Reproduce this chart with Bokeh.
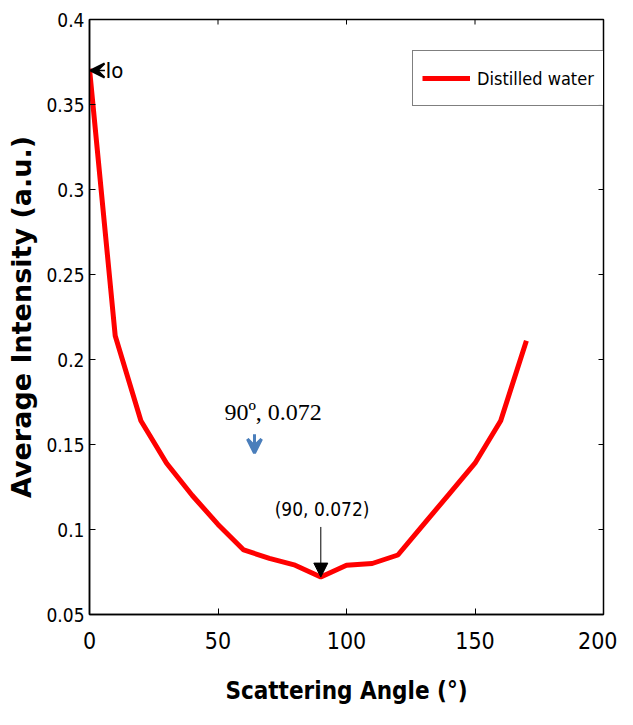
import math
from bokeh.plotting import figure
from bokeh.models import Range1d, Arrow, VeeHead, NormalHead, Label, Legend, LegendItem, FixedTicker
from bokeh.embed import file_html
from bokeh.resources import INLINE

angles = [0, 10, 20, 30, 40, 50, 60, 70, 80, 90, 100, 110, 120, 130, 140, 150, 160, 170]
intensity = [0.371, 0.214, 0.164, 0.139, 0.120, 0.103, 0.088, 0.083, 0.079, 0.072,
             0.079, 0.080, 0.085, 0.103, 0.121, 0.139, 0.164, 0.211]
x_ticks = [0, 50, 100, 150, 200]
y_ticks = [0.05, 0.1, 0.15, 0.2, 0.25, 0.3, 0.35, 0.4]
y_tick_labels = ["0.05", "0.1", "0.15", "0.2", "0.25", "0.3", "0.35", "0.4"]
series_name = "Distilled water"

NARROW = "DejaVu Sans Condensed"
X_MIN, X_MAX, Y_MIN, Y_MAX = 0, 200, 0.05, 0.4

p = figure(width=617, height=709, output_backend="svg", toolbar_location=None,
           x_range=Range1d(X_MIN, X_MAX), y_range=Range1d(Y_MIN, Y_MAX),
           min_border_left=89, min_border_right=14, min_border_top=19, min_border_bottom=95)
p.grid.visible = False
p.outline_line_color = "black"
p.outline_line_width = 1.5

p.xaxis.ticker = FixedTicker(ticks=x_ticks)
p.yaxis.ticker = FixedTicker(ticks=y_ticks)
p.yaxis.major_label_overrides = dict(zip(y_ticks, y_tick_labels))
for ax in (p.xaxis[0], p.yaxis[0]):
    ax.major_tick_in = 6
    ax.major_tick_out = 0
    ax.minor_tick_in = 0
    ax.minor_tick_out = 0
    ax.axis_line_width = 1.5
    ax.major_label_text_font = NARROW
    ax.major_label_text_color = "black"
    ax.axis_label_text_font_style = "bold"
    ax.axis_label_text_color = "black"

p.xaxis.major_label_text_font_size = "23px"
p.yaxis.major_label_text_font_size = "19px"

p.xaxis.axis_label = "Scattering Angle (\u00b0)"
p.xaxis.axis_label_text_font = NARROW
p.xaxis.axis_label_text_font_size = "24px"
p.xaxis.major_label_standoff = 17
p.xaxis.axis_label_standoff = 25

p.yaxis.axis_label = "Average Intensity (a.u.)"
p.yaxis.axis_label_text_font = "DejaVu Sans"
p.yaxis.axis_label_text_font_size = "27px"
p.yaxis.major_label_standoff = 5
p.yaxis.axis_label_standoff = 6

# mirrored box ticks on top and right (inward, 5px)
p.ray(x=x_ticks, y=[Y_MAX] * len(x_ticks), length=5, length_units="screen",
      angle=-math.pi / 2, line_color="black", line_width=1)
p.ray(x=[X_MAX] * len(y_ticks), y=y_ticks, length=5, length_units="screen",
      angle=math.pi, line_color="black", line_width=1)

r = p.line(angles, intensity, line_color="red", line_width=5)

legend = Legend(items=[LegendItem(label=series_name, renderers=[r])],
                location=(323, 508), label_text_font=NARROW, label_text_font_size="18px",
                label_text_color="black", label_height=36,
                border_line_color="black", border_line_width=1.2, glyph_width=48,
                label_standoff=7, padding=9, margin=0)
p.add_layout(legend)

# Io annotation
p.add_layout(Arrow(end=VeeHead(size=14, line_color="black", fill_color="black", line_width=2),
                   x_start=6.0, y_start=intensity[0] - 0.001, x_end=0.4, y_end=intensity[0] - 0.001,
                   line_color="black", line_width=1.5))
p.add_layout(Label(x=6.2, y=intensity[0] - 0.001, text="Io", text_font=NARROW,
                   text_font_size="22px", text_color="black",
                   text_baseline="middle", text_align="left"))

# Blue annotation
p.add_layout(Label(x=52.5, y=0.1694, text="90\u00ba, 0.072", text_font="Liberation Serif",
                   text_font_size="24px", text_color="black",
                   text_baseline="middle", text_align="left"))
p.add_layout(Arrow(end=VeeHead(size=14, line_color="#4a7ebb", fill_color="#4a7ebb", line_width=3),
                   x_start=64.2, y_start=0.156, x_end=64.2, y_end=0.145,
                   line_color="#4a7ebb", line_width=3))

# Minimum annotation
p.add_layout(Label(x=90.5, y=0.1118, text="(90, 0.072)", text_font=NARROW,
                   text_font_size="19px", text_color="black",
                   text_baseline="middle", text_align="center"))
p.add_layout(Arrow(end=NormalHead(size=14, line_color="black", fill_color="black", line_width=1),
                   x_start=angles[9], y_start=0.1015, x_end=angles[9], y_end=intensity[9],
                   line_color="black", line_width=1))

open("out.html", "w").write(file_html(p, INLINE))
